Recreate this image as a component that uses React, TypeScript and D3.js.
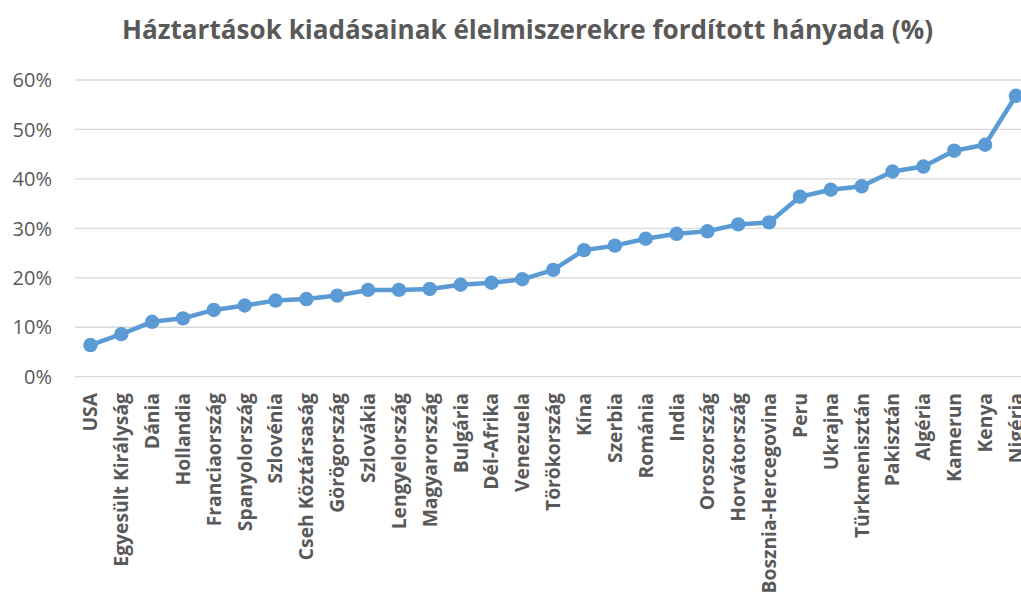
import React from "react";
import * as d3 from "d3";

const categories = [
  "USA", "Egyesült Királyság", "Dánia", "Hollandia", "Franciaország", "Spanyolország",
  "Szlovénia", "Cseh Köztársaság", "Görögország", "Szlovákia", "Lengyelország",
  "Magyarország", "Bulgária", "Dél-Afrika", "Venezuela", "Törökország", "Kína",
  "Szerbia", "Románia", "India", "Oroszország", "Horvátország", "Bosznia-Hercegovina",
  "Peru", "Ukrajna", "Türkmenisztán", "Pakisztán", "Algéria", "Kamerun", "Kenya", "Nigéria",
];

const values = [
  6.4, 8.6, 11.1, 11.8, 13.5, 14.4, 15.4, 15.7, 16.4, 17.55, 17.55, 17.75, 18.6, 19.0,
  19.7, 21.6, 25.6, 26.5, 27.9, 28.9, 29.4, 30.8, 31.2, 36.4, 37.8, 38.5, 41.5, 42.5,
  45.7, 46.9, 56.8,
];

const yTicks = [0, 10, 20, 30, 40, 50, 60];

const title = "Háztartások kiadásainak élelmiszerekre fordított hányada (%)";

export default function App() {
  const W = 1021;
  const H = 598;
  const left = 75;
  const band = 30.85;
  const right = left + band * categories.length;
  const x = d3.scaleBand<string>().domain(categories).range([left, right]);
  const y = d3.scaleLinear().domain([0, 60]).range([376.7, 80]);
  const cx = (c: string) => (x(c) as number) + x.bandwidth() / 2;
  const line = d3
    .line<number>()
    .x((_, i) => cx(categories[i]))
    .y((d) => y(d));
  const font = "'Open Sans', 'DejaVu Sans', sans-serif";
  const gray = "#595959";
  return (
    <svg
      width={W}
      height={H}
      style={{ position: "absolute", left: 0, top: 0, background: "#fff" }}
      fontFamily={font}
    >
      <rect width={W} height={H} fill="#fff" />
      <text
        x={527.5}
        y={38.5}
        textAnchor="middle"
        fontSize={27}
        fontWeight="bold"
        fill={gray}
        textLength={811}
        lengthAdjust="spacingAndGlyphs"
      >
        {title}
      </text>
      {yTicks.map((t) => (
        <g key={t}>
          <line x1={left} x2={W} y1={y(t)} y2={y(t)} stroke="#d9d9d9" strokeWidth={1.3} />
          <text x={52} y={y(t)} dy="0.36em" textAnchor="end" fontSize={20} fill={gray}>
            {t}%
          </text>
        </g>
      ))}
      {categories.map((c) => (
        <text
          key={c}
          transform={`translate(${cx(c)},393) rotate(-90)`}
          dy="0.36em"
          textAnchor="end"
          fontSize={19.3}
          fontWeight="bold"
          fill={gray}
        >
          {c}
        </text>
      ))}
      <path d={line(values) || ""} fill="none" stroke="#5B9BD5" strokeWidth={4.5} strokeLinejoin="round" />
      {values.map((v, i) => (
        <circle key={i} cx={cx(categories[i])} cy={y(v)} r={7.2} fill="#5B9BD5" />
      ))}
    </svg>
  );
}
